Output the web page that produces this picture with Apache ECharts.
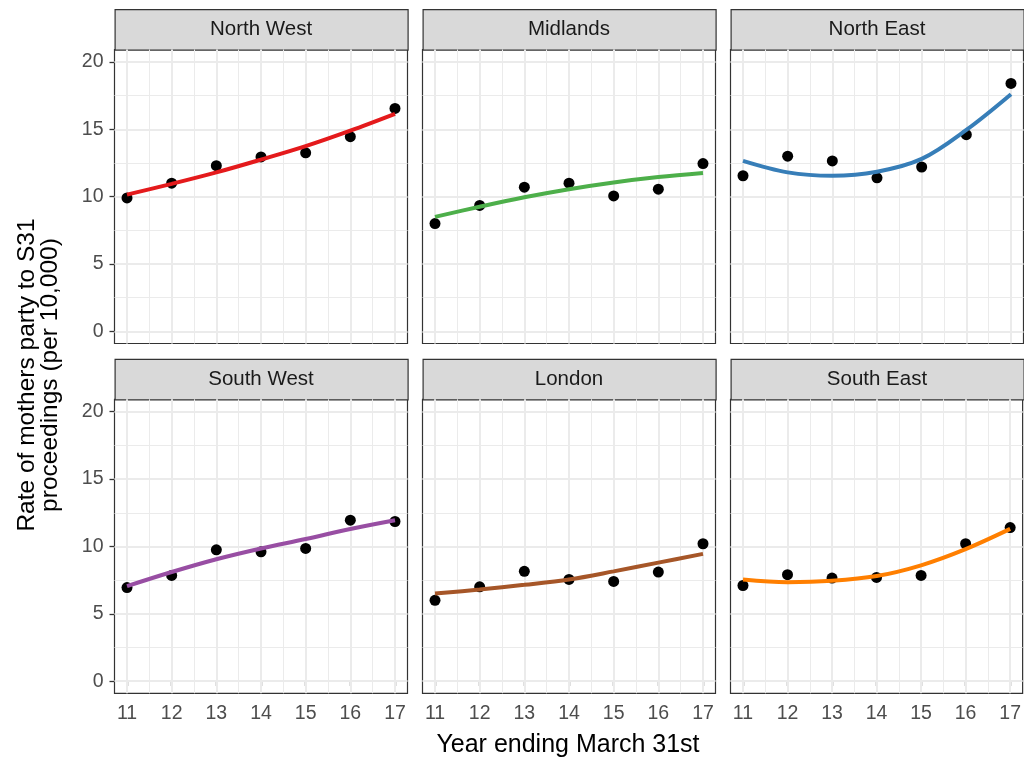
<!DOCTYPE html>
<html>
<head>
<meta charset="utf-8">
<title>Rate of mothers party to S31 proceedings by region</title>
<script src="https://cdn.jsdelivr.net/npm/echarts@6/dist/echarts.min.js"></script>
<style>
  html, body { margin: 0; padding: 0; background: #ffffff; }
  #chart { width: 1024px; height: 758px; }
</style>
</head>
<body>
<div id="chart"></div>
<script>
// Years ending 31 March (20xx)
const years = [11, 12, 13, 14, 15, 16, 17];
const regions = ['North West', 'Midlands', 'North East', 'South West', 'London', 'South East'];

// Observed rates per 10,000 mothers
const northWestObs = [9.9, 11.0, 12.3, 12.95, 13.25, 14.45, 16.55];
const midlandsObs  = [8.0, 9.35, 10.7, 11.0, 10.05, 10.55, 12.45];
const northEastObs = [11.55, 13.0, 12.65, 11.4, 12.2, 14.6, 18.4];
const southWestObs = [6.95, 7.85, 9.75, 9.6, 9.85, 11.95, 11.85];
const londonObs    = [6.0, 7.0, 8.15, 7.55, 7.4, 8.1, 10.2];
const southEastObs = [7.1, 7.9, 7.65, 7.7, 7.85, 10.2, 11.4];

// Smoothed trend per region, at the same years
const northWestFit = [10.15, 10.95, 11.8, 12.75, 13.75, 14.9, 16.15];
const midlandsFit  = [8.5, 9.25, 9.95, 10.55, 11.05, 11.45, 11.75];
const northEastFit = [12.65, 11.8, 11.55, 11.85, 12.8, 14.95, 17.6];
const southWestFit = [7.05, 8.1, 9.05, 9.85, 10.55, 11.3, 11.95];
const londonFit    = [6.5, 6.8, 7.15, 7.55, 8.15, 8.8, 9.45];
const southEastFit = [7.55, 7.35, 7.45, 7.8, 8.6, 9.8, 11.3];

// Axis ticks and grid lines
const xTicks = [11, 12, 13, 14, 15, 16, 17];
const xMinorGrid = [11.5, 12.5, 13.5, 14.5, 15.5, 16.5];
const yTicks = [0, 5, 10, 15, 20];
const yMinorGrid = [2.5, 7.5, 12.5, 17.5];

const observed = [northWestObs, midlandsObs, northEastObs, southWestObs, londonObs, southEastObs];
const fitted = [northWestFit, midlandsFit, northEastFit, southWestFit, londonFit, southEastFit];
const lineColors = ['#e41a1c', '#4daf4a', '#377eb8', '#984ea3', '#a65628', '#ff7f00'];

const FONT = '"Liberation Sans", Arial, Helvetica, sans-serif';
const colLeft = [114.5, 422.5, 730.5];
const panelW = 293;
const rowTop = [49.5, 399.3];
const panelH = 294;
const stripH = 40.5;

const grids = [], xAxes = [], yAxes = [], series = [], graphics = [];

const pair = (xs, ys) => xs.map((x, i) => [x, ys[i]]);

regions.forEach((name, i) => {
  const col = i % 3, row = Math.floor(i / 3);
  const isLeft = col === 0, isBottom = row === 1;

  grids.push({
    left: colLeft[col], top: rowTop[row], width: panelW, height: panelH,
    show: true, borderColor: '#333333', borderWidth: 1.2, backgroundColor: '#ffffff'
  });

  xAxes.push({
    gridIndex: i, type: 'value', min: 10.72, max: 17.28,
    axisLine: { show: false },
    splitLine: { show: false },
    axisTick: { show: isBottom, customValues: xTicks, length: 5, lineStyle: { color: '#333333', width: 1.3 } },
    axisLabel: { show: isBottom, customValues: xTicks, color: '#4d4d4d', fontSize: 19.5, fontFamily: FONT, margin: 10 }
  });

  yAxes.push({
    gridIndex: i, type: 'value', min: -0.9, max: 20.92,
    axisLine: { show: false },
    splitLine: { show: false },
    axisTick: { show: isLeft, customValues: yTicks, length: 5, lineStyle: { color: '#333333', width: 1.3 } },
    axisLabel: { show: isLeft, customValues: yTicks, color: '#4d4d4d', fontSize: 19.5, fontFamily: FONT, margin: 11 }
  });

  // panel background grid lines
  const gridLines = [];
  xMinorGrid.forEach(v => gridLines.push({ xAxis: v, lineStyle: { width: 1 } }));
  yMinorGrid.forEach(v => gridLines.push({ yAxis: v, lineStyle: { width: 1 } }));
  xTicks.forEach(v => gridLines.push({ xAxis: v, lineStyle: { width: 2 } }));
  yTicks.forEach(v => gridLines.push({ yAxis: v, lineStyle: { width: 2 } }));

  series.push({
    type: 'line', xAxisIndex: i, yAxisIndex: i, data: [], z: 1, silent: true,
    markLine: {
      z: 1, silent: true, symbol: ['none', 'none'], animation: false,
      label: { show: false },
      lineStyle: { color: '#ebebeb', type: 'solid' },
      emphasis: { disabled: true },
      data: gridLines
    }
  });

  series.push({
    type: 'scatter', xAxisIndex: i, yAxisIndex: i, z: 8,
    data: pair(years, observed[i]),
    symbol: 'circle', symbolSize: 11,
    itemStyle: { color: '#000000', opacity: 1 }
  });

  series.push({
    type: 'line', xAxisIndex: i, yAxisIndex: i, z: 9,
    data: pair(years, fitted[i]),
    smooth: 0.35, showSymbol: false, symbol: 'none',
    lineStyle: { color: lineColors[i], width: 4, cap: 'butt' }
  });

  // facet strip
  const sx = colLeft[col], sy = rowTop[row] - stripH;
  graphics.push({
    type: 'rect', left: sx, top: sy, silent: true,
    shape: { width: panelW, height: stripH },
    style: { fill: '#d9d9d9', stroke: '#333333', lineWidth: 1.2 }
  });
  graphics.push({
    type: 'text', x: sx + panelW / 2, y: sy + stripH / 2 + 0.5, silent: true,
    style: { text: name, fill: '#1a1a1a', font: '20.5px ' + FONT, textAlign: 'center', textVerticalAlign: 'middle' }
  });
});

// axis titles
graphics.push({
  type: 'text', x: 568, y: 745, silent: true,
  style: { text: 'Year ending March 31st', fill: '#000000', font: '25px ' + FONT, textAlign: 'center', textVerticalAlign: 'middle' }
});
graphics.push({
  type: 'text', x: 39, y: 375, rotation: Math.PI / 2, silent: true,
  style: {
    text: 'Rate of mothers party to S31\nproceedings (per 10,000)',
    fill: '#000000', font: '24.5px ' + FONT, textAlign: 'center', textVerticalAlign: 'middle', lineHeight: 23
  }
});

const chart = echarts.init(document.getElementById('chart'), null, { renderer: 'canvas' });
chart.setOption({
  backgroundColor: '#ffffff',
  animation: false,
  grid: grids,
  xAxis: xAxes,
  yAxis: yAxes,
  series: series,
  graphic: graphics
});
</script>
</body>
</html>
